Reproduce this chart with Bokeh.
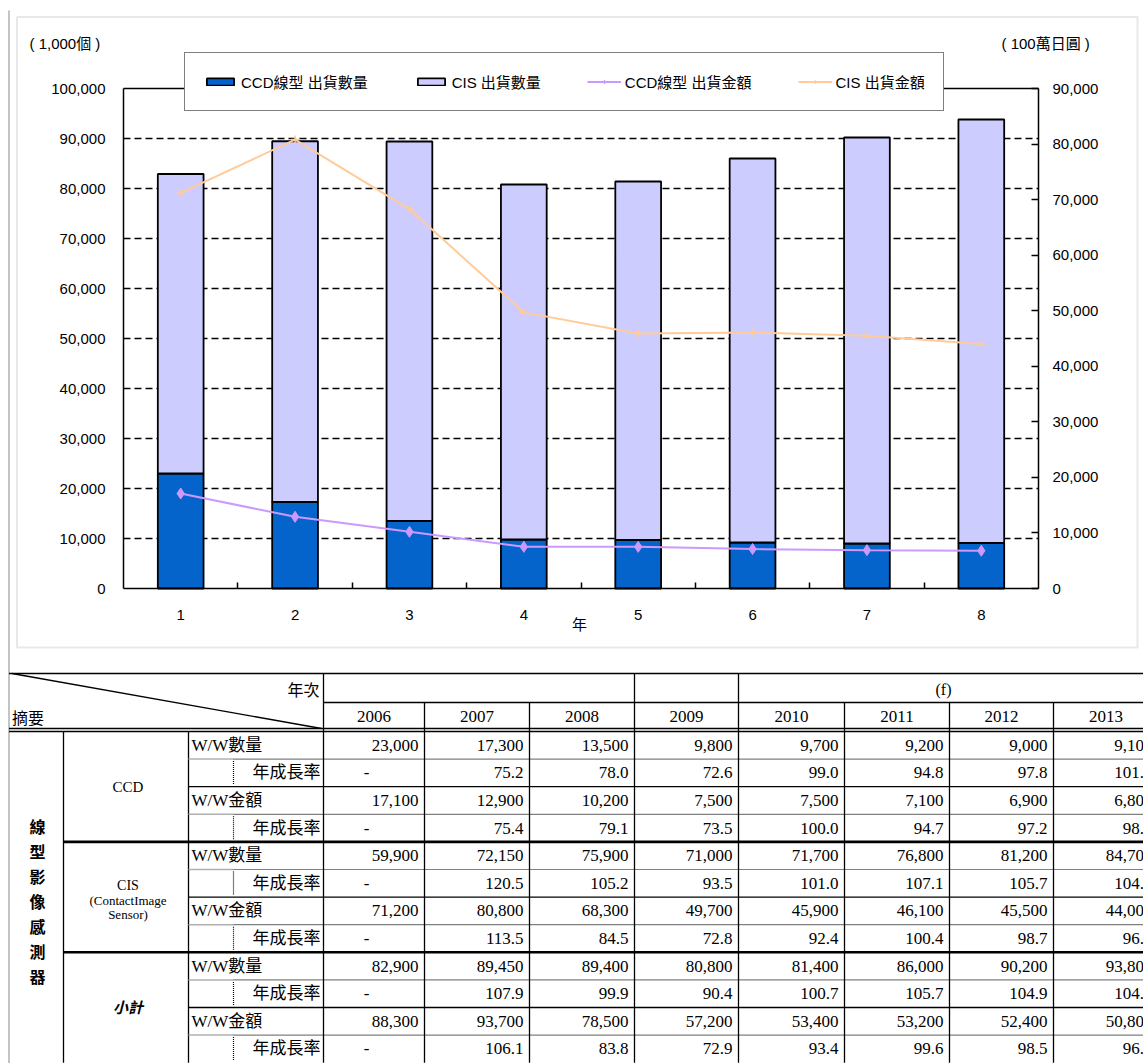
from bokeh.plotting import figure
from bokeh.models import (Range1d, LinearAxis, FixedTicker, NumeralTickFormatter,
                          Legend, LegendItem, Label, BoxAnnotation, ColumnDataSource)
from bokeh.core.properties import value
from bokeh.embed import file_html
from bokeh.resources import INLINE

# ---------------- data ----------------
x_cats = [1, 2, 3, 4, 5, 6, 7, 8]
x_tick_labels = ["1", "2", "3", "4", "5", "6", "7", "8"]
years = ["2006", "2007", "2008", "2009", "2010", "2011", "2012", "2013"]

ccd_qty = [23000, 17300, 13500, 9800, 9700, 9200, 9000, 9100]
cis_qty = [59900, 72150, 75900, 71000, 71700, 76800, 81200, 84700]
ccd_amt = [17100, 12900, 10200, 7500, 7500, 7100, 6900, 6800]
cis_amt = [71200, 80800, 68300, 49700, 45900, 46100, 45500, 44000]
tot_qty = [82900, 89450, 89400, 80800, 81400, 86000, 90200, 93800]
tot_amt = [88300, 93700, 78500, 57200, 53400, 53200, 52400, 50800]

ccd_qty_growth = [None, 75.2, 78.0, 72.6, 99.0, 94.8, 97.8, 101.1]
ccd_amt_growth = [None, 75.4, 79.1, 73.5, 100.0, 94.7, 97.2, 98.6]
cis_qty_growth = [None, 120.5, 105.2, 93.5, 101.0, 107.1, 105.7, 104.3]
cis_amt_growth = [None, 113.5, 84.5, 72.8, 92.4, 100.4, 98.7, 96.7]
tot_qty_growth = [None, 107.9, 99.9, 90.4, 100.7, 105.7, 104.9, 104.0]
tot_amt_growth = [None, 106.1, 83.8, 72.9, 93.4, 99.6, 98.5, 96.9]

qty_ticks = [0, 10000, 20000, 30000, 40000, 50000, 60000, 70000, 80000, 90000, 100000]
amt_ticks = [0, 10000, 20000, 30000, 40000, 50000, 60000, 70000, 80000, 90000]

legend_labels = ["CCD線型 出貨數量", "CIS 出貨數量", "CCD線型 出貨金額", "CIS 出貨金額"]
left_unit = "( 1,000個 )"
right_unit = "( 100萬日圓 )"
x_title = "年"

group_labels = ["CCD", "CIS", "小計"]
cis_sub = ["(ContactImage", "Sensor)"]
vertical_title = "線型影像感測器"
row_labels = ["W/W數量", "年成長率", "W/W金額", "年成長率"]
header_left_top = "年次"
header_left_bottom = "摘要"
forecast_label = "(f)"

SANS = "'Liberation Sans', 'Noto Sans CJK TC'"
SERIF = "'Liberation Serif', 'Noto Sans CJK TC'"

# ---------------- page figure ----------------
W, H = 1143, 1063
FL, FR, FT, FB = 123, 1038, 88, 588      # pixel positions of the chart's plot area
ux = (FR - FL) / 8.0
uy = 100000.0 / (FB - FT)
x0 = 0.5 - FL / ux
x1 = 0.5 + (W - FL) / ux
y0 = -(H - FB) * uy
y1 = FB * uy

p = figure(width=W, height=H, x_range=Range1d(x0, x1), y_range=Range1d(y0, y1),
           output_backend="svg", toolbar_location=None, min_border=0,
           x_axis_location=None, y_axis_location=None, outline_line_color=None,
           background_fill_color="white", border_fill_color="white")
p.grid.visible = False
p.extra_y_ranges = {"amt": Range1d(y0 * 0.9, y1 * 0.9), "py": Range1d(H, 0)}
p.extra_x_ranges = {"px": Range1d(0, W)}

# chart outer box + page edge line
p.add_layout(BoxAnnotation(left=16.5, right=1137, top=16.5, bottom=647,
                           x_range_name="px", y_range_name="py",
                           fill_alpha=0, line_color="#B4B4B4", line_width=2))
p.segment(x0=[8.5], y0=[10], x1=[8.5], y1=[H], x_range_name="px", y_range_name="py",
          line_color="#B0B0B0", line_width=1.5)

# grid lines (dashed), only inside plot area
grid_vals = qty_ticks[1:-1]
p.segment(x0=[x_cats[0] - 0.5] * len(grid_vals), y0=grid_vals,
          x1=[x_cats[-1] + 0.5] * len(grid_vals), y1=grid_vals,
          line_color="black", line_width=1.5, line_dash="7 4")

# axes
def style_axis(ax):
    ax.axis_line_color = "black"
    ax.axis_line_width = 1.5
    ax.major_tick_line_color = "black"
    ax.major_tick_line_width = 1.5
    ax.minor_tick_line_color = "black"
    ax.minor_tick_line_width = 1.5
    ax.major_tick_in = 0
    ax.major_tick_out = 0
    ax.minor_tick_in = 0
    ax.minor_tick_out = 0
    ax.major_label_text_font = "Liberation Sans"
    ax.major_label_text_font_size = "15px"
    ax.major_label_text_color = "black"

ya = LinearAxis(fixed_location=x_cats[0] - 0.5, bounds=(0, qty_ticks[-1]),
                ticker=FixedTicker(ticks=qty_ticks), formatter=NumeralTickFormatter(format="0,0"))
style_axis(ya)
ya.major_label_standoff = 18
p.add_layout(ya, "left")

ra = LinearAxis(y_range_name="amt", fixed_location=x_cats[-1] + 0.5, bounds=(0, amt_ticks[-1]),
                ticker=FixedTicker(ticks=amt_ticks), formatter=NumeralTickFormatter(format="0,0"))
style_axis(ra)
ra.major_tick_in = 7
ra.major_label_standoff = 14
p.add_layout(ra, "right")

xa = LinearAxis(fixed_location=0, bounds=(x_cats[0] - 0.5, x_cats[-1] + 0.5),
                ticker=FixedTicker(ticks=x_cats, minor_ticks=[c + 0.5 for c in x_cats[:-1]]))
style_axis(xa)
xa.major_label_overrides = {float(c): l for c, l in zip(x_cats, x_tick_labels)}
xa.minor_tick_in = 6
xa.major_label_standoff = 21
p.add_layout(xa, "below")

ta = LinearAxis(fixed_location=qty_ticks[-1], bounds=(x_cats[0] - 0.5, x_cats[-1] + 0.5),
                ticker=FixedTicker(ticks=[]))
style_axis(ta)
ta.major_label_text_font_size = "0px"
p.add_layout(ta, "above")

# bars and lines
src = ColumnDataSource(dict(x=x_cats, ccd=ccd_qty, cis=cis_qty, ccd_amt=ccd_amt, cis_amt=cis_amt))
bars = p.vbar_stack(["ccd", "cis"], x="x", width=0.4, source=src,
                    fill_color=["#0563CC", "#CCCCFF"], line_color="black", line_width=1.8)

l1 = p.line("x", "ccd_amt", source=src, y_range_name="amt", line_color="#CC99FF", line_width=2)
s1 = p.scatter("x", "ccd_amt", source=src, y_range_name="amt", marker="diamond", size=11,
               fill_color="#CC99FF", line_color="#CC99FF")
l2 = p.line("x", "cis_amt", source=src, y_range_name="amt", line_color="#FFCC99", line_width=2)
s2 = p.scatter("x", "cis_amt", source=src, y_range_name="amt", marker="cross", size=8,
               line_color="#FFCC99", line_width=1.5)

legend = Legend(items=[LegendItem(label=legend_labels[0], renderers=[bars[0]]),
                       LegendItem(label=legend_labels[1], renderers=[bars[1]]),
                       LegendItem(label=legend_labels[2], renderers=[l1, s1]),
                       LegendItem(label=legend_labels[3], renderers=[l2, s2])],
                orientation="horizontal", location=(184, H - 111),
                padding=18, spacing=46, label_standoff=4, glyph_width=34, glyph_height=9,
                label_height=15, label_text_font=SANS, label_text_font_size="15px",
                label_text_color="black", border_line_color="black", border_line_width=1.5,
                background_fill_color="white", background_fill_alpha=1.0, margin=0)
p.add_layout(legend)

def px_label(x, y, text, align="left", size="15px", font=SANS, style="normal"):
    p.add_layout(Label(x=x, y=y, text=text, x_range_name="px", y_range_name="py",
                       text_align=align, text_baseline="middle", text_font=font,
                       text_font_size=size, text_font_style=style, text_color="black"))

px_label(29, 43, left_unit)
px_label(1001, 43, right_unit)
px_label(579, 624, x_title, align="center")

# ---------------- table (page pixel space) ----------------
col_edges = [323, 424, 529, 634, 738, 844, 949, 1053, 1158]
x_c1, x_c2, x_inner, x_left = 63, 188, 233, 8.5
y_top, y_mid, y_hb1, y_hb2 = 673, 702, 728, 731
pitch = 27.6
n_rows = 12
row_top = [y_hb2 + pitch * i for i in range(n_rows + 1)]
x_end = col_edges[-1]

solid = dict(x0=[], y0=[], x1=[], y1=[])
thick = dict(x0=[], y0=[], x1=[], y1=[])
dotted = dict(x0=[], y0=[], x1=[], y1=[])
grey = dict(x0=[], y0=[], x1=[], y1=[])
def add(d, a, b, c, e):
    d["x0"].append(a); d["y0"].append(b); d["x1"].append(c); d["y1"].append(e)

add(solid, x_left, y_top, x_end, y_top)
add(solid, col_edges[0], y_mid, x_end, y_mid)
add(solid, x_left, y_hb1, x_end, y_hb1)
add(solid, x_left, y_hb2, x_end, y_hb2)
for xe in col_edges:
    start = y_top if xe in (col_edges[0], col_edges[3], col_edges[4]) else y_mid
    add(solid, xe, start, xe, row_top[-1])
add(solid, x_c1, y_hb2, x_c1, row_top[-1])
add(solid, x_c2, y_hb2, x_c2, row_top[-1])
add(solid, x_left + 3, y_top, col_edges[0] - 2, y_hb1)   # diagonal

for i in range(n_rows - 1):
    yb = row_top[i + 1]
    if i % 2 == 1:
        if (i + 1) % 4 == 0:
            add(thick, x_c1, yb, x_end, yb)
        else:
            add(solid, x_c2, yb, x_end, yb)
    else:
        add(grey, x_c2, yb, x_inner, yb)
        add(dotted, x_inner, yb, x_end, yb)
for i in range(1, n_rows, 2):
    add(dotted, x_inner, row_top[i] + 2, x_inner, row_top[i + 1] - 2)

for d, col, lw, dash in ((solid, "black", 1.3, "solid"), (thick, "black", 2.6, "solid"),
                         (dotted, "black", 1.2, "1 1"), (grey, "#B0B0B0", 1.5, "solid")):
    p.segment("x0", "y0", "x1", "y1", source=ColumnDataSource(d), x_range_name="px",
              y_range_name="py", line_color=col, line_width=lw, line_dash=dash)

row_values = [ccd_qty, ccd_qty_growth, ccd_amt, ccd_amt_growth,
              cis_qty, cis_qty_growth, cis_amt, cis_amt_growth,
              tot_qty, tot_qty_growth, tot_amt, tot_amt_growth]

num = dict(x=[], y=[], text=[])
dash_src = dict(x=[], y=[], text=[])
for i, vals in enumerate(row_values):
    yc = row_top[i] + pitch / 2
    for j, v in enumerate(vals):
        if v is None:
            dash_src["x"].append(col_edges[j] + 43); dash_src["y"].append(yc); dash_src["text"].append("-")
        else:
            s = f"{v:,}" if isinstance(v, int) else f"{v:.1f}"
            num["x"].append(col_edges[j + 1] - 6); num["y"].append(yc); num["text"].append(s)

def ptext(src_dict, align, size="17px", font=SERIF, style="normal"):
    p.text("x", "y", "text", source=ColumnDataSource(src_dict), x_range_name="px", y_range_name="py",
           text_align=align, text_baseline="middle", text_font=value(font),
           text_font_size=size, text_font_style=style, text_color="black")

ptext(num, "right")
ptext(dash_src, "center")
ptext(dict(x=[(col_edges[j] + col_edges[j + 1]) / 2 for j in range(len(years))],
           y=[(y_mid + y_hb1) / 2 + 1] * len(years), text=years), "center")
ptext(dict(x=[(col_edges[4] + col_edges[-1]) / 2 - 5], y=[(y_top + y_mid) / 2 + 1],
           text=[forecast_label]), "center", size="16px")
ptext(dict(x=[col_edges[0] - 4], y=[(y_top + y_mid) / 2 + 2], text=[header_left_top]), "right",
      size="16px")
ptext(dict(x=[x_left + 3], y=[(y_mid + y_hb1) / 2 + 3], text=[header_left_bottom]), "left",
      size="16px")

lab_l = dict(x=[], y=[], text=[])
lab_r = dict(x=[], y=[], text=[])
for i in range(n_rows):
    yc = row_top[i] + pitch / 2
    lbl = row_labels[i % 4]
    if i % 2 == 0:
        lab_l["x"].append(x_c2 + 3); lab_l["y"].append(yc); lab_l["text"].append(lbl)
    else:
        lab_r["x"].append(col_edges[0] - 3); lab_r["y"].append(yc); lab_r["text"].append(lbl)
ptext(lab_l, "left")
ptext(lab_r, "right")

gx = (x_c1 + x_c2) / 2 + 2
ptext(dict(x=[gx], y=[(row_top[0] + row_top[4]) / 2], text=[group_labels[0]]), "center", size="15px")
cis_mid = (row_top[4] + row_top[8]) / 2
ptext(dict(x=[gx], y=[cis_mid - 12], text=[group_labels[1]]), "center", size="14px")
ptext(dict(x=[gx, gx], y=[cis_mid + 3, cis_mid + 17], text=cis_sub), "center", size="13px")
ptext(dict(x=[gx], y=[(row_top[8] + row_top[12]) / 2], text=[group_labels[2]]), "center",
      size="15px", font=SANS, style="bold italic")

vchars = list(vertical_title)
ptext(dict(x=[37] * len(vchars), y=[827 + 25 * k for k in range(len(vchars))], text=vchars),
      "center", size="16px", font=SANS, style="bold")

open("out.html", "w").write(file_html(p, INLINE))
